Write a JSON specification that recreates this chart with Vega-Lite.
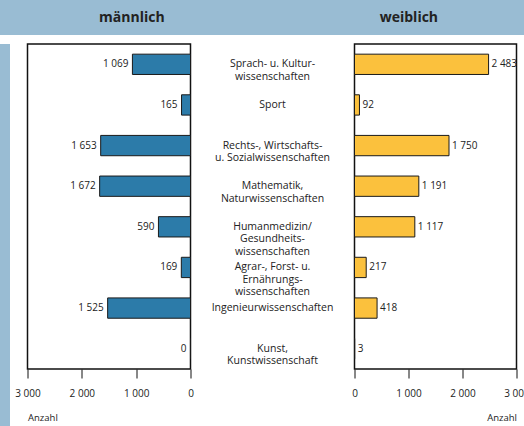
{
  "$schema": "https://vega.github.io/schema/vega-lite/v6.json",
  "padding": 0,
  "background": "white",
  "spacing": 0,
  "config": {
    "font": "Open Sans",
    "view": {"stroke": null},
    "locale": {"number": {"decimal": ",", "thousands": " ", "grouping": [3], "currency": ["", " €"]}},
    "axis": {
      "grid": false,
      "domain": false,
      "tickSize": 9,
      "tickColor": "#111111",
      "tickWidth": 1,
      "labelPadding": 10,
      "labelFontSize": 10,
      "labelColor": "#222222",
      "labelFlush": false,
      "titleFontSize": 9.5,
      "titleFontWeight": "normal",
      "titleColor": "#222222",
      "titlePadding": 14
    }
  },
  "datasets": {
    "d": [
      {"label": "Sprach- u. Kultur-\nwissenschaften", "m": 1069, "w": 2483},
      {"label": "Sport", "m": 165, "w": 92},
      {"label": "Rechts-, Wirtschafts-\nu. Sozialwissenschaften", "m": 1653, "w": 1750},
      {"label": "Mathematik,\nNaturwissenschaften", "m": 1672, "w": 1191},
      {"label": "Humanmedizin/\nGesundheits-\nwissenschaften", "m": 590, "w": 1117},
      {"label": "Agrar-, Forst- u.\nErnährungs-\nwissenschaften", "m": 169, "w": 217},
      {"label": "Ingenieurwissenschaften", "m": 1525, "w": 418},
      {"label": "Kunst,\nKunstwissenschaft", "m": 0, "w": 3}
    ]
  },
  "vconcat": [
    {
      "width": 524,
      "height": 35,
      "view": {"fill": "#99bcd3", "stroke": null},
      "data": {"values": [{"g": "männlich"}, {"g": "weiblich"}]},
      "mark": {"type": "text", "fontSize": 14, "fontWeight": "bold", "color": "#222222"},
      "encoding": {
        "x": {"field": "g", "type": "nominal", "scale": {"type": "point", "padding": 0.4458, "align": 0.534}, "axis": null},
        "text": {"field": "g"}
      }
    },
    {
      "spacing": 3.5,
      "hconcat": [
        {
          "width": 10,
          "height": 391,
          "view": {"fill": "#99bcd3", "stroke": null},
          "data": {"values": [{}]},
          "mark": {"type": "text"},
          "encoding": {"text": {"value": ""}}
        },
        {
          "spacing": 0,
          "hconcat": [
            {
              "width": 163,
              "height": 325,
              "title": {"text": " ", "fontSize": 1, "offset": 7},
              "view": {"stroke": "#111111", "strokeWidth": 1.5},
              "data": {"name": "d"},
              "encoding": {
                "y": {"field": "label", "type": "nominal", "sort": null, "axis": null, "scale": {"paddingInner": 0.5, "paddingOuter": 0.25}}
              },
              "layer": [
                {
                  "mark": {"type": "bar", "fill": "#2c7ba9", "stroke": "#1a1a1a", "strokeWidth": 1},
                  "encoding": {
                    "x": {"field": "m", "type": "quantitative", "scale": {"domain": [0, 3000], "reverse": true, "nice": false},
                      "axis": {"values": [0, 1000, 2000, 3000], "format": ",d", "title": "Anzahl", "titleAnchor": "end", "titleAlign": "left"}}
                  }
                },
                {
                  "mark": {"type": "text", "align": "right", "dx": -4, "fontSize": 10, "color": "#222222"},
                  "encoding": {
                    "x": {"field": "m", "type": "quantitative"},
                    "text": {"field": "m", "type": "quantitative", "format": ",d"}
                  }
                }
              ]
            },
            {
              "width": 156,
              "height": 325,
              "title": {"text": " ", "fontSize": 1, "offset": 7},
              "data": {"name": "d"},
              "mark": {"type": "text", "lineBreak": "\n", "fontSize": 10.5, "lineHeight": 12.5, "color": "#222222"},
              "encoding": {
                "y": {"field": "label", "type": "nominal", "sort": null, "axis": null, "scale": {"paddingInner": 0.5, "paddingOuter": 0.25}},
                "text": {"field": "label"}
              }
            },
            {
              "width": 162,
              "height": 325,
              "title": {"text": " ", "fontSize": 1, "offset": 7},
              "view": {"stroke": "#111111", "strokeWidth": 1.5},
              "data": {"name": "d"},
              "encoding": {
                "y": {"field": "label", "type": "nominal", "sort": null, "axis": null, "scale": {"paddingInner": 0.5, "paddingOuter": 0.25}}
              },
              "layer": [
                {
                  "mark": {"type": "bar", "fill": "#fbc13d", "stroke": "#1a1a1a", "strokeWidth": 1},
                  "encoding": {
                    "x": {"field": "w", "type": "quantitative", "scale": {"domain": [0, 3000], "nice": false},
                      "axis": {"values": [0, 1000, 2000, 3000], "format": ",d", "title": "Anzahl", "titleAnchor": "end"}}
                  }
                },
                {
                  "mark": {"type": "text", "align": "left", "dx": 3, "fontSize": 10, "color": "#222222"},
                  "encoding": {
                    "x": {"field": "w", "type": "quantitative"},
                    "text": {"field": "w", "type": "quantitative", "format": ",d"}
                  }
                }
              ]
            }
          ]
        }
      ]
    }
  ]
}
